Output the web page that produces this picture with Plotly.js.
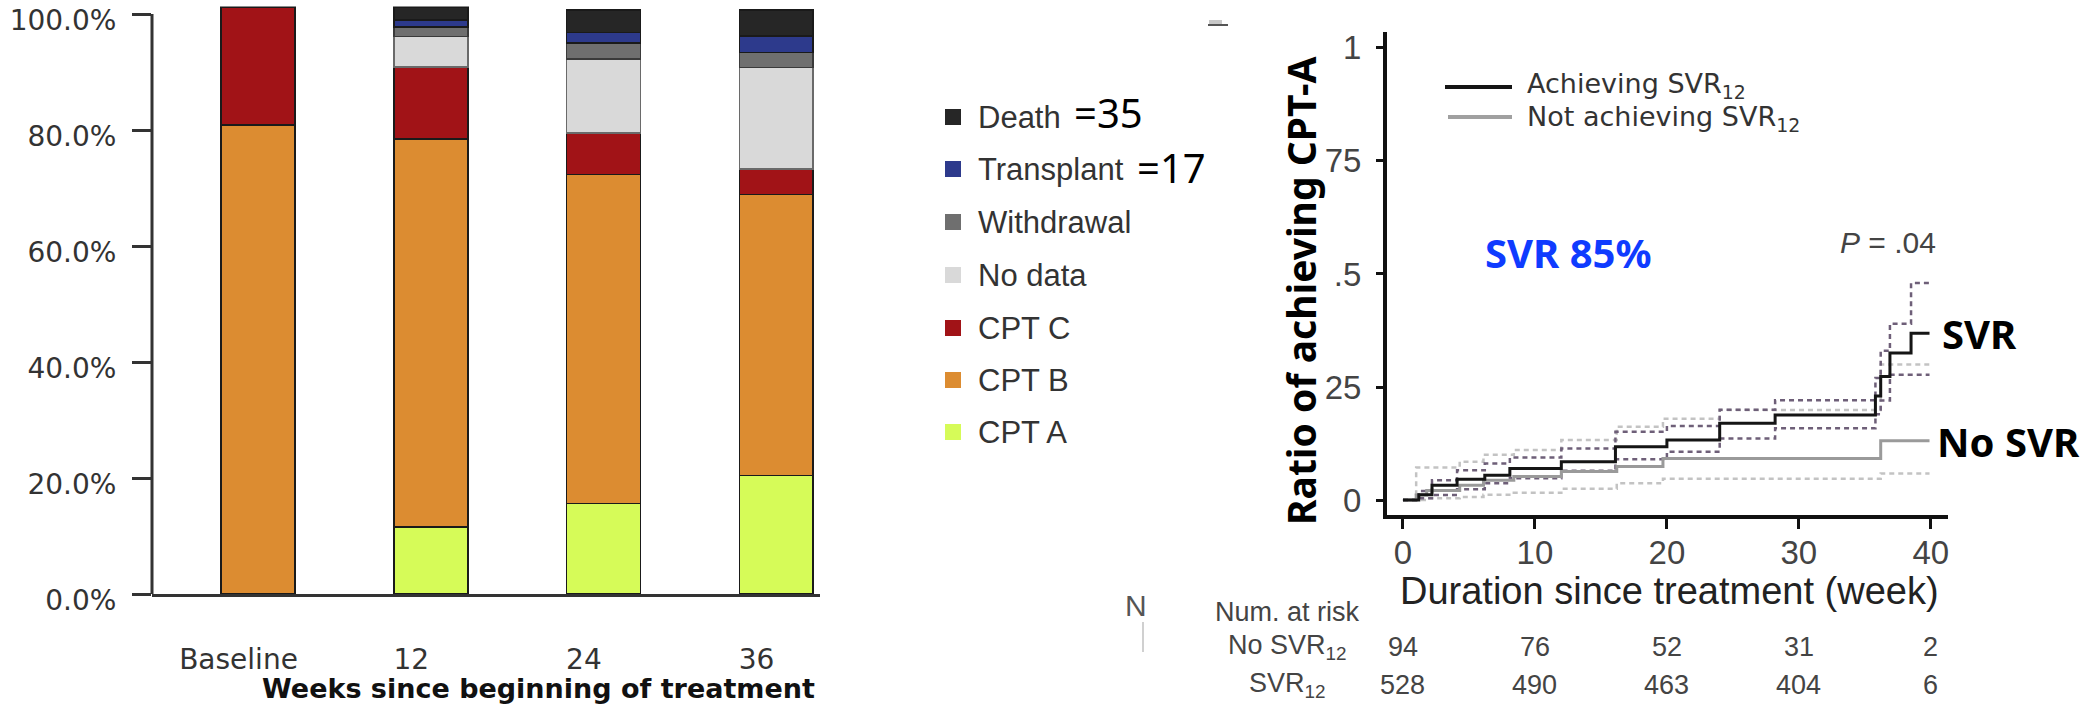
<!DOCTYPE html>
<html>
<head>
<meta charset="utf-8">
<script src="https://cdn.plot.ly/plotly-3.0.1.min.js"></script>
<style>
  html, body { margin: 0; padding: 0; background: #ffffff; }
  #chart { width: 2095px; height: 705px; }
</style>
</head>
<body>
<div id="chart"></div>
<script>
// ---- Child-Pugh class distribution over time (stacked %, per visit) ----
const visitLabels = ['Baseline', '12', '24', '36'];
const cptA       = [null, 11.6, 15.6, 20.4];
const cptB       = [80.9, 66.9, 56.7, 48.5];
const cptC       = [20.3, 12.4,  7.2,  4.4];
const noData     = [null,  5.2, 12.8, 17.5];
const withdrawal = [null,  1.7,  2.7,  2.6];
const transplant = [null,  1.2,  1.8,  2.8];
const death      = [null,  2.2,  3.9,  4.5];

const pctTickVals = [0, 20, 40, 60, 80, 100];
const pctTickText = ['0.0%', '20.0%', '40.0%', '60.0%', '80.0%', '100.0%'];

const stackNames  = ['CPT A', 'CPT B', 'CPT C', 'No data', 'Withdrawal', 'Transplant', 'Death'];
const stackValues = [cptA, cptB, cptC, noData, withdrawal, transplant, death];
const stackColors = ['#d6fb58', '#dc8c31', '#a11317', '#d9d9d9', '#6f6f6f', '#2d3a8c', '#262626'];
const stackEdges  = ['#1a1a1a', '#1a1a1a', '#1a1a1a', '#6a6a6a', '#3a3a3a', '#1a1a1a', '#1a1a1a'];
const legendCounts = { 'Death': 35, 'Transplant': 17 };

// ---- Cumulative ratio of achieving CPT-A (Kaplan-Meier style) ----
const svrWeeks = [0, 1.2, 2.2, 4.1, 6.2, 8.1, 12.0, 16.1, 20.0, 24.0, 28.2, 35.8, 36.2, 36.9, 38.5, 39.9];
const svrRatio = [0, 0.012, 0.033, 0.046, 0.055, 0.070, 0.085, 0.118, 0.133, 0.170, 0.188, 0.230, 0.273, 0.325, 0.369, 0.369];
const svrUpper = [0, 0.020, 0.044, 0.066, 0.081, 0.094, 0.114, 0.151, 0.164, 0.200, 0.221, 0.270, 0.330, 0.390, 0.480, 0.480];
const svrLower = [0, 0.004, 0.011, 0.024, 0.037, 0.048, 0.065, 0.090, 0.107, 0.136, 0.159, 0.190, 0.220, 0.277, 0.277, 0.277];

const noSvrWeeks = [0, 1.0, 1.8, 4.3, 6.1, 8.4, 12.0, 16.2, 19.7, 24.0, 36.2, 39.9];
const noSvrRatio = [0, 0.011, 0.021, 0.033, 0.044, 0.052, 0.063, 0.074, 0.092, 0.092, 0.131, 0.131];
const noSvrUpper = [0, 0.072, 0.072, 0.085, 0.100, 0.111, 0.133, 0.162, 0.180, 0.199, 0.300, 0.300];
const noSvrLower = [0, 0.000, 0.004, 0.007, 0.012, 0.016, 0.025, 0.037, 0.047, 0.047, 0.059, 0.059];

const riskWeeks   = [0, 10, 20, 30, 40];
const riskNoSvr   = [94, 76, 52, 31, 2];
const riskSvr     = [528, 490, 463, 404, 6];

const kmTickVals = [0, 0.25, 0.5, 0.75, 1];
const kmTickText = ['0', '25', '.5', '75', '1'];

// ---- page geometry helpers (pixel -> paper fraction) ----
const W = 2095, H = 705;
const fx = p => p / W;
const fy = p => 1 - p / H;

const traces = [];

stackNames.forEach((name, i) => {
  traces.push({
    type: 'bar',
    name: name,
    x: visitLabels,
    y: stackValues[i],
    xaxis: 'x', yaxis: 'y',
    width: 0.428,
    offset: -0.100,
    marker: { color: stackColors[i], line: { color: stackEdges[i], width: 1.6 } },
    hoverinfo: 'skip',
    showlegend: false
  });
});

function stepTrace(xs, ys, color, width, dash) {
  return {
    type: 'scatter', mode: 'lines',
    x: xs, y: ys,
    xaxis: 'x2', yaxis: 'y2',
    line: { shape: 'hv', color: color, width: width, dash: dash || 'solid' },
    hoverinfo: 'skip', showlegend: false
  };
}

// confidence bands first, estimates on top
traces.push(stepTrace(noSvrWeeks, noSvrUpper, '#c3c3c3', 2.5, '5px,4px'));
traces.push(stepTrace(noSvrWeeks, noSvrLower, '#c3c3c3', 2.5, '5px,4px'));
traces.push(stepTrace(svrWeeks, svrUpper, '#6e5f78', 2.5, '5px,4px'));
traces.push(stepTrace(svrWeeks, svrLower, '#6e5f78', 2.5, '5px,4px'));
traces.push(stepTrace(noSvrWeeks, noSvrRatio, '#9a9a9a', 3));
traces.push(stepTrace(svrWeeks, svrRatio, '#151515', 3));

const shapes = [];
const annotations = [];

// left value axis line (0 to 100 %)
shapes.push({ type: 'line', xref: 'paper', yref: 'y', x0: fx(152), x1: fx(152), y0: 0, y1: 100,
              line: { color: '#333333', width: 3 } });

// stacked-bar legend (top entry = top of the stack)
const legendRows = [117, 169, 222, 275, 328, 380, 432];
const legendOrder = stackNames.slice().reverse();
legendOrder.forEach((name, r) => {
  const idx = stackNames.indexOf(name);
  const cy = legendRows[r];
  shapes.push({ type: 'rect', xref: 'paper', yref: 'paper',
                x0: fx(945), x1: fx(961), y0: fy(cy + 8), y1: fy(cy - 8),
                fillcolor: stackColors[idx], line: { width: 0 } });
  annotations.push({ xref: 'paper', yref: 'paper', x: fx(976), y: fy(cy), xanchor: 'left', yanchor: 'middle',
                     text: name, showarrow: false,
                     font: { family: 'Liberation Sans, Arial, sans-serif', size: 31, color: '#333333' } });
});
annotations.push({ xref: 'paper', yref: 'paper', x: fx(1072), y: fy(112), xanchor: 'left', yanchor: 'middle',
                   text: '=' + legendCounts['Death'], showarrow: false,
                   font: { family: 'Noto Sans, sans-serif', size: 40, color: '#000000' } });
annotations.push({ xref: 'paper', yref: 'paper', x: fx(1135), y: fy(167), xanchor: 'left', yanchor: 'middle',
                   text: '=' + legendCounts['Transplant'], showarrow: false,
                   font: { family: 'Noto Sans, sans-serif', size: 40, color: '#000000' } });

// left x-axis title
annotations.push({ xref: 'paper', yref: 'paper', x: fx(538), y: fy(688), xanchor: 'center', yanchor: 'middle',
                   text: '<b>Weeks since beginning of treatment</b>', showarrow: false,
                   font: { family: 'DejaVu Sans, sans-serif', size: 27, color: '#111111' } });

// KM legend
shapes.push({ type: 'line', xref: 'paper', yref: 'paper', x0: fx(1445), x1: fx(1512), y0: fy(87), y1: fy(87),
              line: { color: '#151515', width: 4 } });
shapes.push({ type: 'line', xref: 'paper', yref: 'paper', x0: fx(1448), x1: fx(1512), y0: fy(117), y1: fy(117),
              line: { color: '#a0a0a0', width: 4 } });
annotations.push({ xref: 'paper', yref: 'paper', x: fx(1525), y: fy(86), xanchor: 'left', yanchor: 'middle',
                   text: 'Achieving SVR<sub>12</sub>', showarrow: false,
                   font: { family: 'DejaVu Sans, sans-serif', size: 27, color: '#333333' } });
annotations.push({ xref: 'paper', yref: 'paper', x: fx(1525), y: fy(118), xanchor: 'left', yanchor: 'middle',
                   text: 'Not achieving SVR<sub>12</sub>', showarrow: false,
                   font: { family: 'DejaVu Sans, sans-serif', size: 27, color: '#333333' } });

// KM axis titles
annotations.push({ xref: 'paper', yref: 'paper', x: fx(1300), y: fy(291), xanchor: 'center', yanchor: 'middle',
                   textangle: -90, text: '<b>Ratio of achieving CPT-A</b>', showarrow: false,
                   font: { family: 'Noto Sans, sans-serif', size: 39, color: '#000000' } });
annotations.push({ xref: 'paper', yref: 'paper', x: fx(1669), y: fy(591), xanchor: 'center', yanchor: 'middle',
                   text: 'Duration since treatment (week)', showarrow: false, borderpad: 0,
                   font: { family: 'Liberation Sans, Arial, sans-serif', size: 38, color: '#222222' } });

// KM callouts
annotations.push({ xref: 'paper', yref: 'paper', x: fx(1568), y: fy(253), xanchor: 'center', yanchor: 'middle',
                   text: '<b>SVR 85%</b>', showarrow: false,
                   font: { family: 'Noto Sans, sans-serif', size: 40, color: '#0f3bff' } });
annotations.push({ xref: 'paper', yref: 'paper', x: fx(1938), y: fy(242), xanchor: 'right', yanchor: 'middle',
                   text: '<i>P</i> = .04', showarrow: false,
                   font: { family: 'Liberation Sans, Arial, sans-serif', size: 30, color: '#444444' } });
annotations.push({ xref: 'paper', yref: 'paper', x: fx(1940), y: fy(333), xanchor: 'left', yanchor: 'middle',
                   text: '<b>SVR</b>', showarrow: false,
                   font: { family: 'Noto Sans, sans-serif', size: 40, color: '#000000' } });
annotations.push({ xref: 'paper', yref: 'paper', x: fx(1935), y: fy(441), xanchor: 'left', yanchor: 'middle',
                   text: '<b>No SVR</b>', showarrow: false,
                   font: { family: 'Noto Sans, sans-serif', size: 40, color: '#000000' } });

// number-at-risk table
const tableFont = { family: 'Liberation Sans, Arial, sans-serif', size: 27, color: '#444444' };
annotations.push({ xref: 'paper', yref: 'paper', x: fx(1287), y: fy(612), xanchor: 'center', yanchor: 'middle',
                   text: 'Num. at risk', showarrow: false, font: tableFont });
annotations.push({ xref: 'paper', yref: 'paper', x: fx(1287), y: fy(647), xanchor: 'center', yanchor: 'middle',
                   text: 'No SVR<sub>12</sub>', showarrow: false, font: tableFont });
annotations.push({ xref: 'paper', yref: 'paper', x: fx(1287), y: fy(685), xanchor: 'center', yanchor: 'middle',
                   text: 'SVR<sub>12</sub>', showarrow: false, font: tableFont });
riskWeeks.forEach((wk, i) => {
  annotations.push({ xref: 'x2', yref: 'paper', x: wk, y: fy(647), xanchor: 'center', yanchor: 'middle',
                     text: String(riskNoSvr[i]), showarrow: false, font: tableFont });
  annotations.push({ xref: 'x2', yref: 'paper', x: wk, y: fy(685), xanchor: 'center', yanchor: 'middle',
                     text: String(riskSvr[i]), showarrow: false, font: tableFont });
});

// stray marks between the panels
annotations.push({ xref: 'paper', yref: 'paper', x: fx(1136), y: fy(605), xanchor: 'center', yanchor: 'middle',
                   text: 'N', showarrow: false,
                   font: { family: 'Liberation Sans, Arial, sans-serif', size: 30, color: '#555555' } });
shapes.push({ type: 'line', xref: 'paper', yref: 'paper', x0: fx(1143), x1: fx(1143), y0: fy(622), y1: fy(652),
              line: { color: '#d0d0d0', width: 2 } });
shapes.push({ type: 'line', xref: 'paper', yref: 'paper', x0: fx(1208), x1: fx(1228), y0: fy(25), y1: fy(25),
              line: { color: '#555555', width: 2 } });
shapes.push({ type: 'rect', xref: 'paper', yref: 'paper', x0: fx(1209), x1: fx(1222), y0: fy(24), y1: fy(20),
              fillcolor: '#c8c8c8', line: { width: 0 } });

const layout = {
  width: W, height: H,
  margin: { l: 0, r: 0, t: 0, b: 0, pad: 0 },
  paper_bgcolor: '#ffffff', plot_bgcolor: 'rgba(0,0,0,0)',
  barmode: 'stack',
  showlegend: false,
  xaxis: {
    domain: [fx(152), fx(820)], anchor: 'y',
    type: 'category', range: [-0.501, 3.367],
    showline: true, linecolor: '#333333', linewidth: 3,
    ticks: '', showgrid: false, zeroline: false,
    tickfont: { family: 'DejaVu Sans, sans-serif', size: 28, color: '#333333' },
    ticklabelstandoff: 38, ticklabeloverflow: 'allow'
  },
  yaxis: {
    domain: [fy(594), fy(6.5)], anchor: 'x',
    range: [0, 101.3],
    tickvals: pctTickVals, ticktext: pctTickText,
    ticks: 'outside', ticklen: 19, tickwidth: 3, tickcolor: '#333333',
    showline: false, showgrid: false, zeroline: false,
    tickfont: { family: 'DejaVu Sans, sans-serif', size: 28, color: '#333333' },
    ticklabelstandoff: 10, ticklabelshift: 6, ticklabeloverflow: 'allow'
  },
  xaxis2: {
    domain: [fx(1387), fx(1948)], anchor: 'y2',
    range: [-1.21, 41.3],
    tickvals: riskWeeks,
    ticks: 'outside', ticklen: 10, tickwidth: 3, tickcolor: '#111111',
    showline: true, linecolor: '#111111', linewidth: 4,
    showgrid: false, zeroline: false,
    tickfont: { family: 'Liberation Sans, Arial, sans-serif', size: 33, color: '#444444' },
    ticklabelstandoff: -5, ticklabeloverflow: 'allow'
  },
  yaxis2: {
    domain: [fy(515), fy(32)], anchor: 'x2',
    range: [-0.033, 1.035],
    tickvals: kmTickVals, ticktext: kmTickText,
    ticks: 'outside', ticklen: 7, tickwidth: 3, tickcolor: '#111111',
    showline: true, linecolor: '#111111', linewidth: 4,
    showgrid: false, zeroline: false,
    tickfont: { family: 'Liberation Sans, Arial, sans-serif', size: 33, color: '#444444' },
    ticklabelstandoff: 8, ticklabeloverflow: 'allow'
  },
  shapes: shapes,
  annotations: annotations
};

Plotly.newPlot('chart', traces, layout, { staticPlot: true, displayModeBar: false });
</script>
</body>
</html>
